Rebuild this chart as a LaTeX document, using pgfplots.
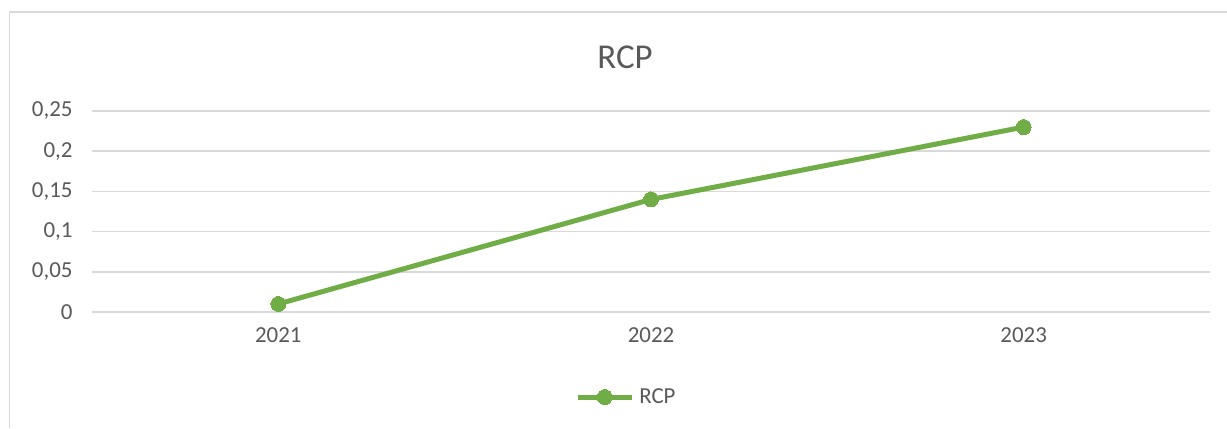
\documentclass[border=0pt]{standalone}
\usepackage{pgfplots}
\pgfplotsset{compat=1.18}
\usepackage{fontspec}
\setmainfont{Carlito}
\definecolor{txt}{HTML}{595959}
\definecolor{grd}{HTML}{D9D9D9}
\definecolor{ser}{HTML}{70AD47}
\begin{document}
\begin{tikzpicture}[x=1bp,y=1bp]
\path[use as bounding box] (0,0) rectangle (1227,428);
\draw[grd,line width=1.5bp] (9.5,0) -- (9.5,416) -- (1227,416);
\node[txt,font=\fontsize{35}{40}\selectfont] at (625,371) {RCP};
\begin{axis}[
  at={(92bp,116bp)}, anchor=south west,
  scale only axis, width=1118bp, height=201bp,
  xmin=-0.5, xmax=2.5, ymin=0, ymax=0.25,
  clip=false,
  xtick={0,1,2}, xticklabels={2021,2022,2023},
  ytick={0,0.05,0.1,0.15,0.2,0.25},
  yticklabels={0,{0,05},{0,1},{0,15},{0,2},{0,25}},
  ymajorgrids, grid style={grd,line width=1.5bp},
  axis line style={draw=none}, tick style={draw=none},
  ticklabel style={txt,font=\fontsize{23}{26}\selectfont},
  yticklabel style={xshift=-16bp},
  xticklabel style={yshift=-12bp},
  legend style={draw=none, fill=none, at={(0.478,-0.423)}, anchor=center,
    font=\fontsize{23}{26}\selectfont, text=txt, inner sep=0pt,
    /tikz/every odd column/.append style={column sep=3bp},
    /tikz/every even column/.append style={column sep=0pt}},
  legend cell align=left,
  legend image code/.code={\draw[#1,mark repeat=2,mark phase=2] plot coordinates {(0bp,0bp) (27bp,0bp) (54bp,0bp)};},
]
\addplot[ser, line width=5bp, mark=*, mark size=7.5bp, mark options={fill=ser,draw=ser,line width=0pt}]
  coordinates {(0,0.01) (1,0.14) (2,0.23)};
\addlegendentry{RCP}
\end{axis}
\end{tikzpicture}
\end{document}
